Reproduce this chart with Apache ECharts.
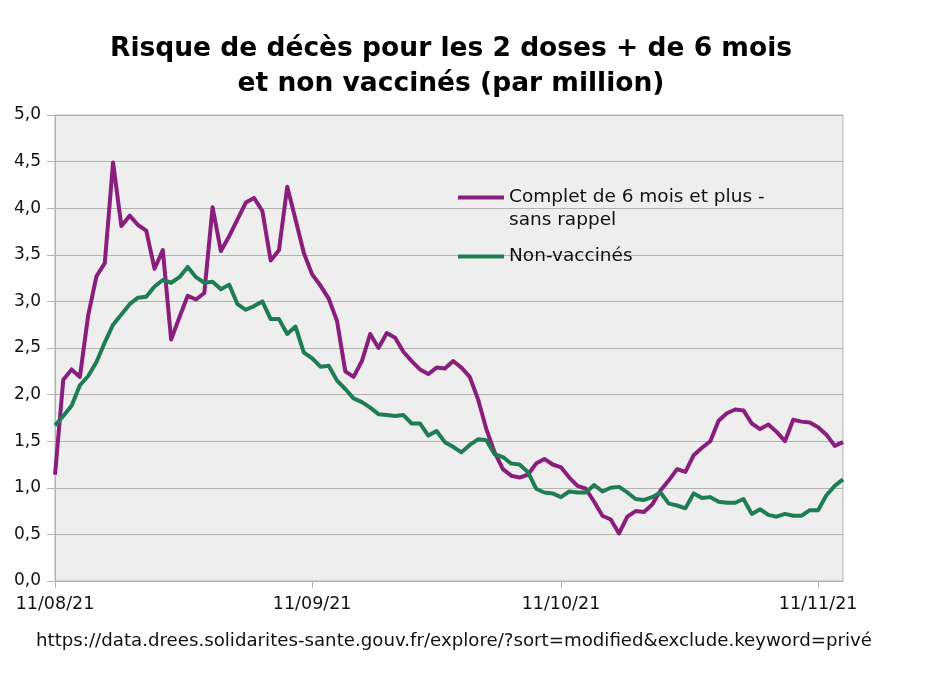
<!DOCTYPE html>
<html>
<head>
<meta charset="utf-8">
<script src="https://cdn.jsdelivr.net/npm/echarts@6/dist/echarts.min.js"></script>
<style>
html,body{margin:0;padding:0;background:#fff;}
#chart{width:943px;height:682px;}
</style>
</head>
<body>
<div id="chart"></div>
<script>
const categories = [
 '11/08/21','12/08/21','13/08/21','14/08/21','15/08/21','16/08/21','17/08/21','18/08/21','19/08/21','20/08/21',
 '21/08/21','22/08/21','23/08/21','24/08/21','25/08/21','26/08/21','27/08/21','28/08/21','29/08/21','30/08/21',
 '31/08/21','01/09/21','02/09/21','03/09/21','04/09/21','05/09/21','06/09/21','07/09/21','08/09/21','09/09/21',
 '10/09/21','11/09/21','12/09/21','13/09/21','14/09/21','15/09/21','16/09/21','17/09/21','18/09/21','19/09/21',
 '20/09/21','21/09/21','22/09/21','23/09/21','24/09/21','25/09/21','26/09/21','27/09/21','28/09/21','29/09/21',
 '30/09/21','01/10/21','02/10/21','03/10/21','04/10/21','05/10/21','06/10/21','07/10/21','08/10/21','09/10/21',
 '10/10/21','11/10/21','12/10/21','13/10/21','14/10/21','15/10/21','16/10/21','17/10/21','18/10/21','19/10/21',
 '20/10/21','21/10/21','22/10/21','23/10/21','24/10/21','25/10/21','26/10/21','27/10/21','28/10/21','29/10/21',
 '30/10/21','31/10/21','01/11/21','02/11/21','03/11/21','04/11/21','05/11/21','06/11/21','07/11/21','08/11/21',
 '09/11/21','10/11/21','11/11/21','12/11/21','13/11/21','14/11/21'
];
const tickLabels = ['11/08/21','11/09/21','11/10/21','11/11/21'];

const seriesNames = ['Complet de 6 mois et plus - sans rappel', 'Non-vaccinés'];

const completSansRappel = [
 1.14,2.16,2.27,2.19,2.85,3.27,3.41,4.49,3.81,3.92,
 3.82,3.76,3.35,3.55,2.59,2.83,3.06,3.02,3.09,4.01,
 3.54,3.70,3.88,4.06,4.11,3.97,3.44,3.55,4.23,3.88,
 3.52,3.29,3.17,3.03,2.79,2.25,2.19,2.36,2.65,2.50,
 2.66,2.61,2.46,2.36,2.27,2.22,2.29,2.28,2.36,2.29,
 2.19,1.95,1.63,1.38,1.20,1.13,1.11,1.14,1.26,1.31,
 1.25,1.22,1.11,1.02,0.99,0.85,0.70,0.66,0.51,0.69,
 0.75,0.74,0.82,0.97,1.08,1.20,1.17,1.35,1.43,1.50,
 1.72,1.80,1.84,1.83,1.69,1.63,1.68,1.60,1.50,1.73,
 1.71,1.70,1.65,1.57,1.45,1.49
];

const nonVaccines = [
 1.67,1.77,1.88,2.10,2.20,2.35,2.56,2.75,2.86,2.97,
 3.04,3.05,3.16,3.23,3.20,3.26,3.37,3.26,3.20,3.21,
 3.13,3.18,2.97,2.91,2.95,3.00,2.81,2.81,2.65,2.73,
 2.45,2.39,2.30,2.31,2.15,2.06,1.96,1.92,1.86,1.79,
 1.78,1.77,1.78,1.69,1.69,1.56,1.61,1.49,1.44,1.38,
 1.46,1.52,1.51,1.36,1.33,1.26,1.25,1.17,0.99,0.95,
 0.94,0.90,0.96,0.95,0.95,1.03,0.96,1.00,1.01,0.95,
 0.88,0.87,0.90,0.95,0.83,0.81,0.78,0.94,0.89,0.90,
 0.85,0.84,0.84,0.88,0.72,0.77,0.71,0.69,0.72,0.70,
 0.70,0.76,0.76,0.92,1.02,1.09
];

const FONT = 'DejaVu Sans';
const PURPLE = '#891e7d';
const GREEN = '#1f7d53';
const AXIS_GRAY = '#b3b3b3';

const chart = echarts.init(document.getElementById('chart'), null, {renderer: 'canvas'});
const showTick = (idx, val) => tickLabels.indexOf(val) !== -1;

chart.setOption({
  animation: false,
  backgroundColor: '#ffffff',
  title: {
    text: 'Risque de décès pour les 2 doses + de 6 mois\net non vaccinés (par million)',
    left: 451,
    top: 32,
    textAlign: 'center',
    padding: 0,
    textStyle: {fontFamily: FONT, fontWeight: 'bold', fontSize: 26.5, lineHeight: 35, color: '#000'}
  },
  legend: [
    {
      data: [seriesNames[0]],
      left: 458, top: 163,
      padding: 0,
      itemWidth: 46, itemHeight: 4,
      icon: 'rect',
      formatter: () => '\nComplet de 6 mois et plus -\nsans rappel',
      textStyle: {fontFamily: FONT, fontSize: 18.5, lineHeight: 23, color: '#111'}
    },
    {
      data: [seriesNames[1]],
      left: 458, top: 245,
      padding: 0,
      itemWidth: 46, itemHeight: 4,
      icon: 'rect',
      textStyle: {fontFamily: FONT, fontSize: 18.5, lineHeight: 23, color: '#111'}
    }
  ],
  grid: {
    left: 55, right: 100, top: 115, bottom: 101,
    show: true, backgroundColor: '#eeeeee', borderColor: AXIS_GRAY, borderWidth: 1
  },
  xAxis: {
    type: 'category',
    data: categories,
    boundaryGap: false,
    axisLine: {show: true, lineStyle: {color: AXIS_GRAY, width: 1}},
    axisTick: {show: true, interval: showTick, length: 7, lineStyle: {color: AXIS_GRAY}},
    axisLabel: {interval: showTick, margin: 14, fontFamily: FONT, fontSize: 17.5, color: '#111', hideOverlap: false},
    splitLine: {show: false}
  },
  yAxis: {
    type: 'value',
    min: 0, max: 5, interval: 0.5,
    axisLine: {show: true, lineStyle: {color: AXIS_GRAY, width: 1}},
    axisTick: {show: true, length: 8, lineStyle: {color: AXIS_GRAY}},
    axisLabel: {margin: 14, fontFamily: FONT, fontSize: 17, color: '#111',
      formatter: v => v.toFixed(1).replace('.', ',')},
    splitLine: {show: true, lineStyle: {color: AXIS_GRAY, width: 1}}
  },
  graphic: [
    {
      type: 'text', left: 36, top: 632,
      style: {text: 'https://data.drees.solidarites-sante.gouv.fr/explore/?sort=modified&exclude.keyword=privé',
        fontFamily: FONT, fontSize: 18.2, fill: '#111'}
    }
  ],
  series: [
    {
      name: seriesNames[0], type: 'line', data: completSansRappel,
      showSymbol: false, symbol: 'none',
      lineStyle: {color: PURPLE, width: 4, join: 'round'},
      itemStyle: {color: PURPLE}
    },
    {
      name: seriesNames[1], type: 'line', data: nonVaccines,
      showSymbol: false, symbol: 'none',
      lineStyle: {color: GREEN, width: 4, join: 'round'},
      itemStyle: {color: GREEN}
    }
  ]
});
</script>
</body>
</html>
